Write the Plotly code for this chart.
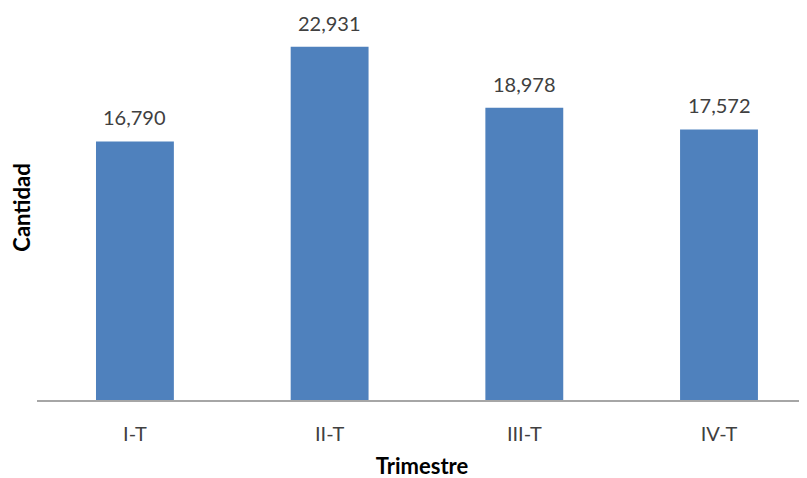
import plotly.graph_objects as go

categories = ["I-T", "II-T", "III-T", "IV-T"]
values = [16790, 22931, 18978, 17572]
labels = ["16,790", "22,931", "18,978", "17,572"]

xs = list(range(len(categories)))

fig = go.Figure(go.Bar(
    x=xs, y=values,
    marker=dict(color="#4F81BD", line=dict(width=0)),
    width=0.40, cliponaxis=False,
))

for xi, v, lab in zip(xs, values, labels):
    fig.add_annotation(
        x=xi, y=v, text=lab, showarrow=False,
        yanchor="bottom", yshift=10,
        font=dict(size=20, color="#404040", family="Lato"),
    )

fig.update_layout(
    width=807, height=478,
    margin=dict(l=29, r=8, t=7, b=86),
    paper_bgcolor="white", plot_bgcolor="white",
    showlegend=False,
    font=dict(family="Lato", color="#404040"),
    xaxis=dict(
        range=[-0.503, 3.452], automargin=False,
        tickmode="array", tickvals=xs, ticktext=categories,
        tickfont=dict(size=20, color="#404040"),
        ticklabelstandoff=15,
        showline=True, linecolor="#A6A6A6", linewidth=1.5,
        showgrid=False, zeroline=False, ticks="", ticklen=0,
        title=dict(text="<b>Trimestre</b>", font=dict(size=22, color="#000000"), standoff=15),
    ),
    yaxis=dict(
        range=[0, 25000], automargin=False,
        showticklabels=False, showgrid=False, zeroline=False,
        showline=False, ticks="",
        title=dict(text="<b>Cantidad</b>", font=dict(size=22, color="#000000"), standoff=3),
    ),
)

fig.write_html("out.html")
